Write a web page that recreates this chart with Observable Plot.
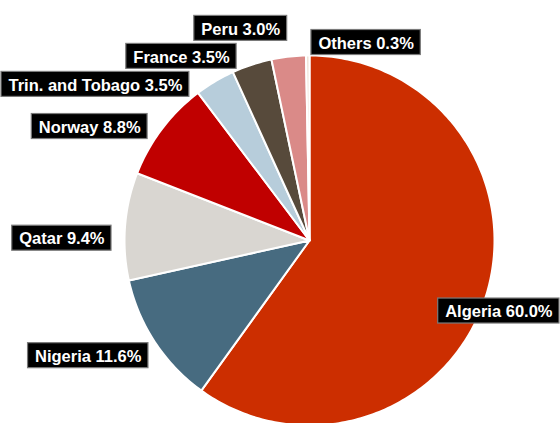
<!DOCTYPE html>
<html>
<head>
<meta charset="utf-8">
<script src="https://cdn.jsdelivr.net/npm/d3@7"></script>
<script src="https://cdn.jsdelivr.net/npm/@observablehq/plot@0.6"></script>
<style>
  html, body { margin: 0; padding: 0; background: #fff; overflow: hidden; }
  #chart svg { display: block; }
</style>
</head>
<body>
<div id="chart"></div>
<script>
// ---- data ----
const countries = ["Algeria", "Nigeria", "Qatar", "Norway", "Trin. and Tobago", "France", "Peru", "Others"];
const shares = [60.0, 11.6, 9.4, 8.8, 3.5, 3.5, 3.0, 0.3];
const colors = ["#cc2e00", "#476b80", "#d9d6d1", "#c00000", "#b7cddb", "#574a3b", "#da8a88", "#eee2d6"];

// ---- geometry (layout) ----
const W = 560, H = 423;
const CX = 309, CY = 240, RAD = 185;          // pie centre and radius in px
const toX = px => (px - CX) / RAD;             // px -> data units
const toY = py => (CY - py) / RAD;

const arcs = d3.pie().sort(null).value(d => d)(shares);

const slicePoints = [];
arcs.forEach((a, i) => {
  const n = Math.max(2, Math.ceil((a.endAngle - a.startAngle) / (Math.PI / 180)));
  slicePoints.push({name: countries[i], x: 0, y: 0});
  for (let k = 0; k <= n; k++) {
    const t = a.startAngle + (a.endAngle - a.startAngle) * k / n;
    slicePoints.push({name: countries[i], x: Math.sin(t), y: Math.cos(t)});
  }
});

// ---- labels ----
const FONT = "bold 16.5px 'Liberation Sans', Arial, sans-serif";
const ctx = document.createElement("canvas").getContext("2d");
ctx.font = FONT;
const BOXH = 25, PAD = 7, LR = 198, GAP = 28, DROP = 14;

const labels = arcs.map((a, i) => {
  const m = (a.startAngle + a.endAngle) / 2;
  const dx = Math.sin(m), dy = -Math.cos(m);
  const text = `${countries[i]} ${shares[i].toFixed(1)}%`;
  return {
    text, dx, dy,
    side: dx > -0.05 ? 1 : -1,
    w: ctx.measureText(text).width + 2 * PAD,
    ay: CY + dy * LR + DROP * (1 - Math.abs(dy))
  };
});

// vertical relaxation per side to avoid overlaps
[1, -1].forEach(side => {
  const g = labels.filter(l => l.side === side).sort((a, b) => a.ay - b.ay);
  for (let it = 0; it < 200; it++) {
    for (let j = 0; j < g.length - 1; j++) {
      const d = g[j + 1].ay - g[j].ay;
      if (d < GAP) {
        const o = (GAP - d) / 2;
        g[j].ay -= o; g[j + 1].ay += o;
      }
    }
  }
});

labels.forEach(l => {
  const ddy = l.ay - CY;
  const ax = Math.abs(ddy) < LR ? CX + l.side * Math.sqrt(LR * LR - ddy * ddy) : CX + l.dx * LR;
  let x1 = l.side > 0 ? ax : ax - l.w;
  let x2 = x1 + l.w;
  if (x2 > W - 1) { x1 -= x2 - (W - 1); x2 = W - 1; }
  if (x1 < 1) { x2 += 1 - x1; x1 = 1; }
  l.x1 = toX(x1); l.x2 = toX(x2);
  l.y1 = toY(l.ay - BOXH / 2); l.y2 = toY(l.ay + BOXH / 2);
  l.cx = toX((x1 + x2) / 2); l.cy = toY(l.ay);
});

const chart = Plot.plot({
  width: W,
  height: H,
  margin: 0,
  style: {fontFamily: "'Liberation Sans', Arial, sans-serif", background: "white"},
  x: {domain: [-1, 1], range: [CX - RAD, CX + RAD], axis: null},
  y: {domain: [-1, 1], range: [CY + RAD, CY - RAD], axis: null},
  color: {domain: countries, range: colors},
  marks: [
    Plot.line(slicePoints, {
      x: "x", y: "y", z: "name", fill: "name",
      stroke: "white", strokeWidth: 2, strokeLinejoin: "round",
      curve: "linear-closed"
    }),
    Plot.rect(labels, {
      x1: "x1", x2: "x2", y1: "y1", y2: "y2",
      fill: "black", stroke: "#7a7a7a", strokeWidth: 1.2
    }),
    Plot.text(labels, {
      x: "cx", y: "cy", text: "text",
      fill: "white", fontWeight: "bold", fontSize: 16.5,
      textAnchor: "middle", dy: 1
    })
  ]
});
document.getElementById("chart").appendChild(chart);
</script>
</body>
</html>
